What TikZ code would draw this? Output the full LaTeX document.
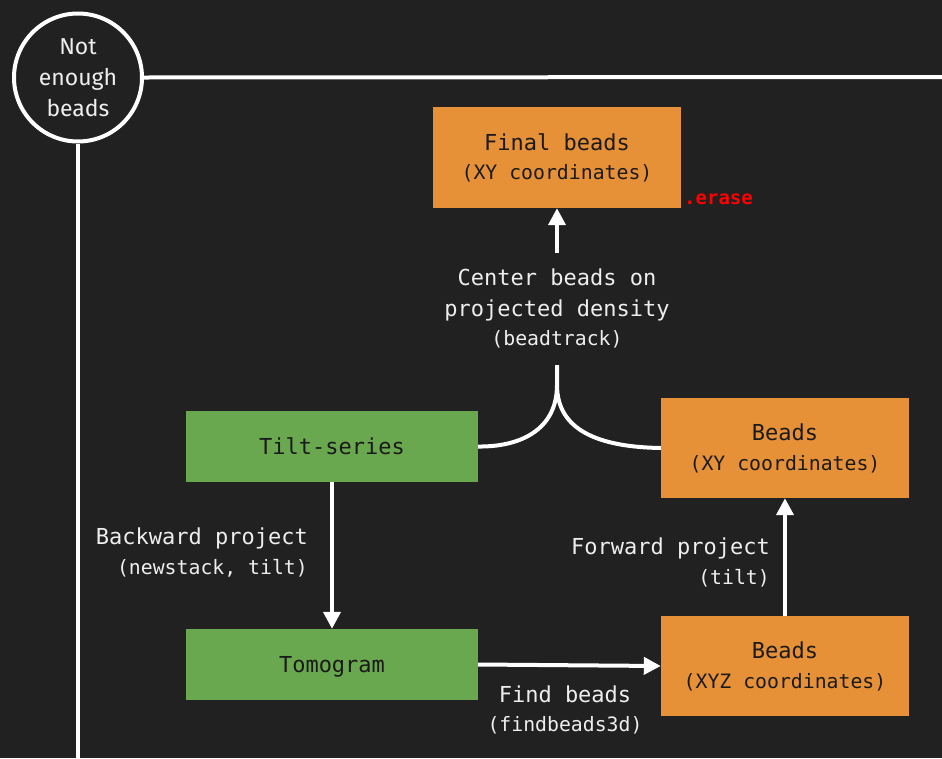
\documentclass[tikz,border=0pt]{standalone}
\usepackage{fontspec}
\usetikzlibrary{arrows.meta}
\newfontfamily\monofam{DejaVu Sans Mono}
\newfontfamily\roundfam{Fira Sans}
\definecolor{bgdark}{HTML}{212121}
\definecolor{boxorange}{HTML}{E69138}
\definecolor{boxgreen}{HTML}{6AA84F}
\definecolor{txtlight}{HTML}{EEEEEE}
\definecolor{txtdark}{HTML}{1A1A1A}
% smaller second line naming the program
\newcommand{\prog}[1]{{\fontsize{19.8}{30}\selectfont #1}}
\begin{document}
\begin{tikzpicture}[x=1pt,y=-1pt,
  wire/.style={draw=white,line width=4pt},
  flow/.style={wire,-{Triangle[length=17pt,width=17pt]}},
  databox/.style={fill=boxorange,text=txtdark,minimum width=248pt,minimum height=100pt,
    align=center,font=\monofam\fontsize{22}{30}\selectfont,inner sep=0pt},
  procbox/.style={fill=boxgreen,text=txtdark,minimum width=292pt,minimum height=71pt,
    align=center,font=\monofam\fontsize{22}{30}\selectfont,inner sep=0pt,
    text height=16pt,text depth=0pt},
  steplabel/.style={text=txtlight,font=\monofam\fontsize{22}{31}\selectfont,inner sep=0pt}]
\fill[bgdark] (0,0) rectangle (942,758);
\useasboundingbox (0,0) rectangle (942,758);

% stop condition
\node[circle,draw=white,line width=4pt,minimum size=128pt,inner sep=0pt,
  text=txtlight,align=center,font=\roundfam\fontsize{23}{31}\selectfont] (few) at (78,77.5)
  {Not\\enough\\beads};
\coordinate (fewright) at (942,77);
\coordinate (fewdown) at (78,758);
\draw[wire] (few.east) -- (fewright);
\draw[wire] (few.south) -- (fewdown);

% data and processing boxes
\node[databox,minimum height=101pt] (final) at (557,157.5) {Final beads\\[-1pt]\prog{(XY coordinates)}};
\node[text=red,font=\monofam\bfseries\fontsize{19}{20}\selectfont,anchor=base west,inner sep=0pt]
  (erase) at (684,204) {.erase};
\node[procbox] (tilt) at (332,446.5) {Tilt-series};
\node[databox] (beadsxy) at (785,448) {Beads\\\prog{(XY coordinates)}};
\node[procbox] (tomo) at (332,664.5) {Tomogram};
\node[databox] (beadsxyz) at (785,666) {Beads\\\prog{(XYZ coordinates)}};

% step labels
\node[steplabel,align=center] (center) at (557,308) {Center beads on\\projected density\\[-2pt]\prog{(beadtrack)}};
\node[steplabel,align=right,anchor=east] (back) at (308,552.5) {Backward project\\[-1pt]\prog{(newstack, tilt)}};
\node[steplabel,align=right,anchor=east] (fwd) at (770,562.5) {Forward project\\[-1pt]\prog{(tilt)}};
\node[steplabel,align=center] (find) at (565,710) {Find beads\\[-2pt]\prog{(findbeads3d)}};

% connectors
\coordinate (centertop) at (557,253);
\coordinate (centerbot) at (557,365);
\coordinate (merge) at (557,385);
\draw[flow] (centertop) -- (final.south);
\draw[wire] (tilt.east) .. controls (520,447) and (557,430) .. (merge) -- (centerbot);
\draw[wire] (beadsxy.west) .. controls (598,447) and (557,430) .. (merge);
\draw[flow] (tilt.south) -- (tomo.north);
\draw[flow] (tomo.east) -- (beadsxyz.west);
\draw[flow] (beadsxyz.north) -- (beadsxy.south);
\end{tikzpicture}
\end{document}
